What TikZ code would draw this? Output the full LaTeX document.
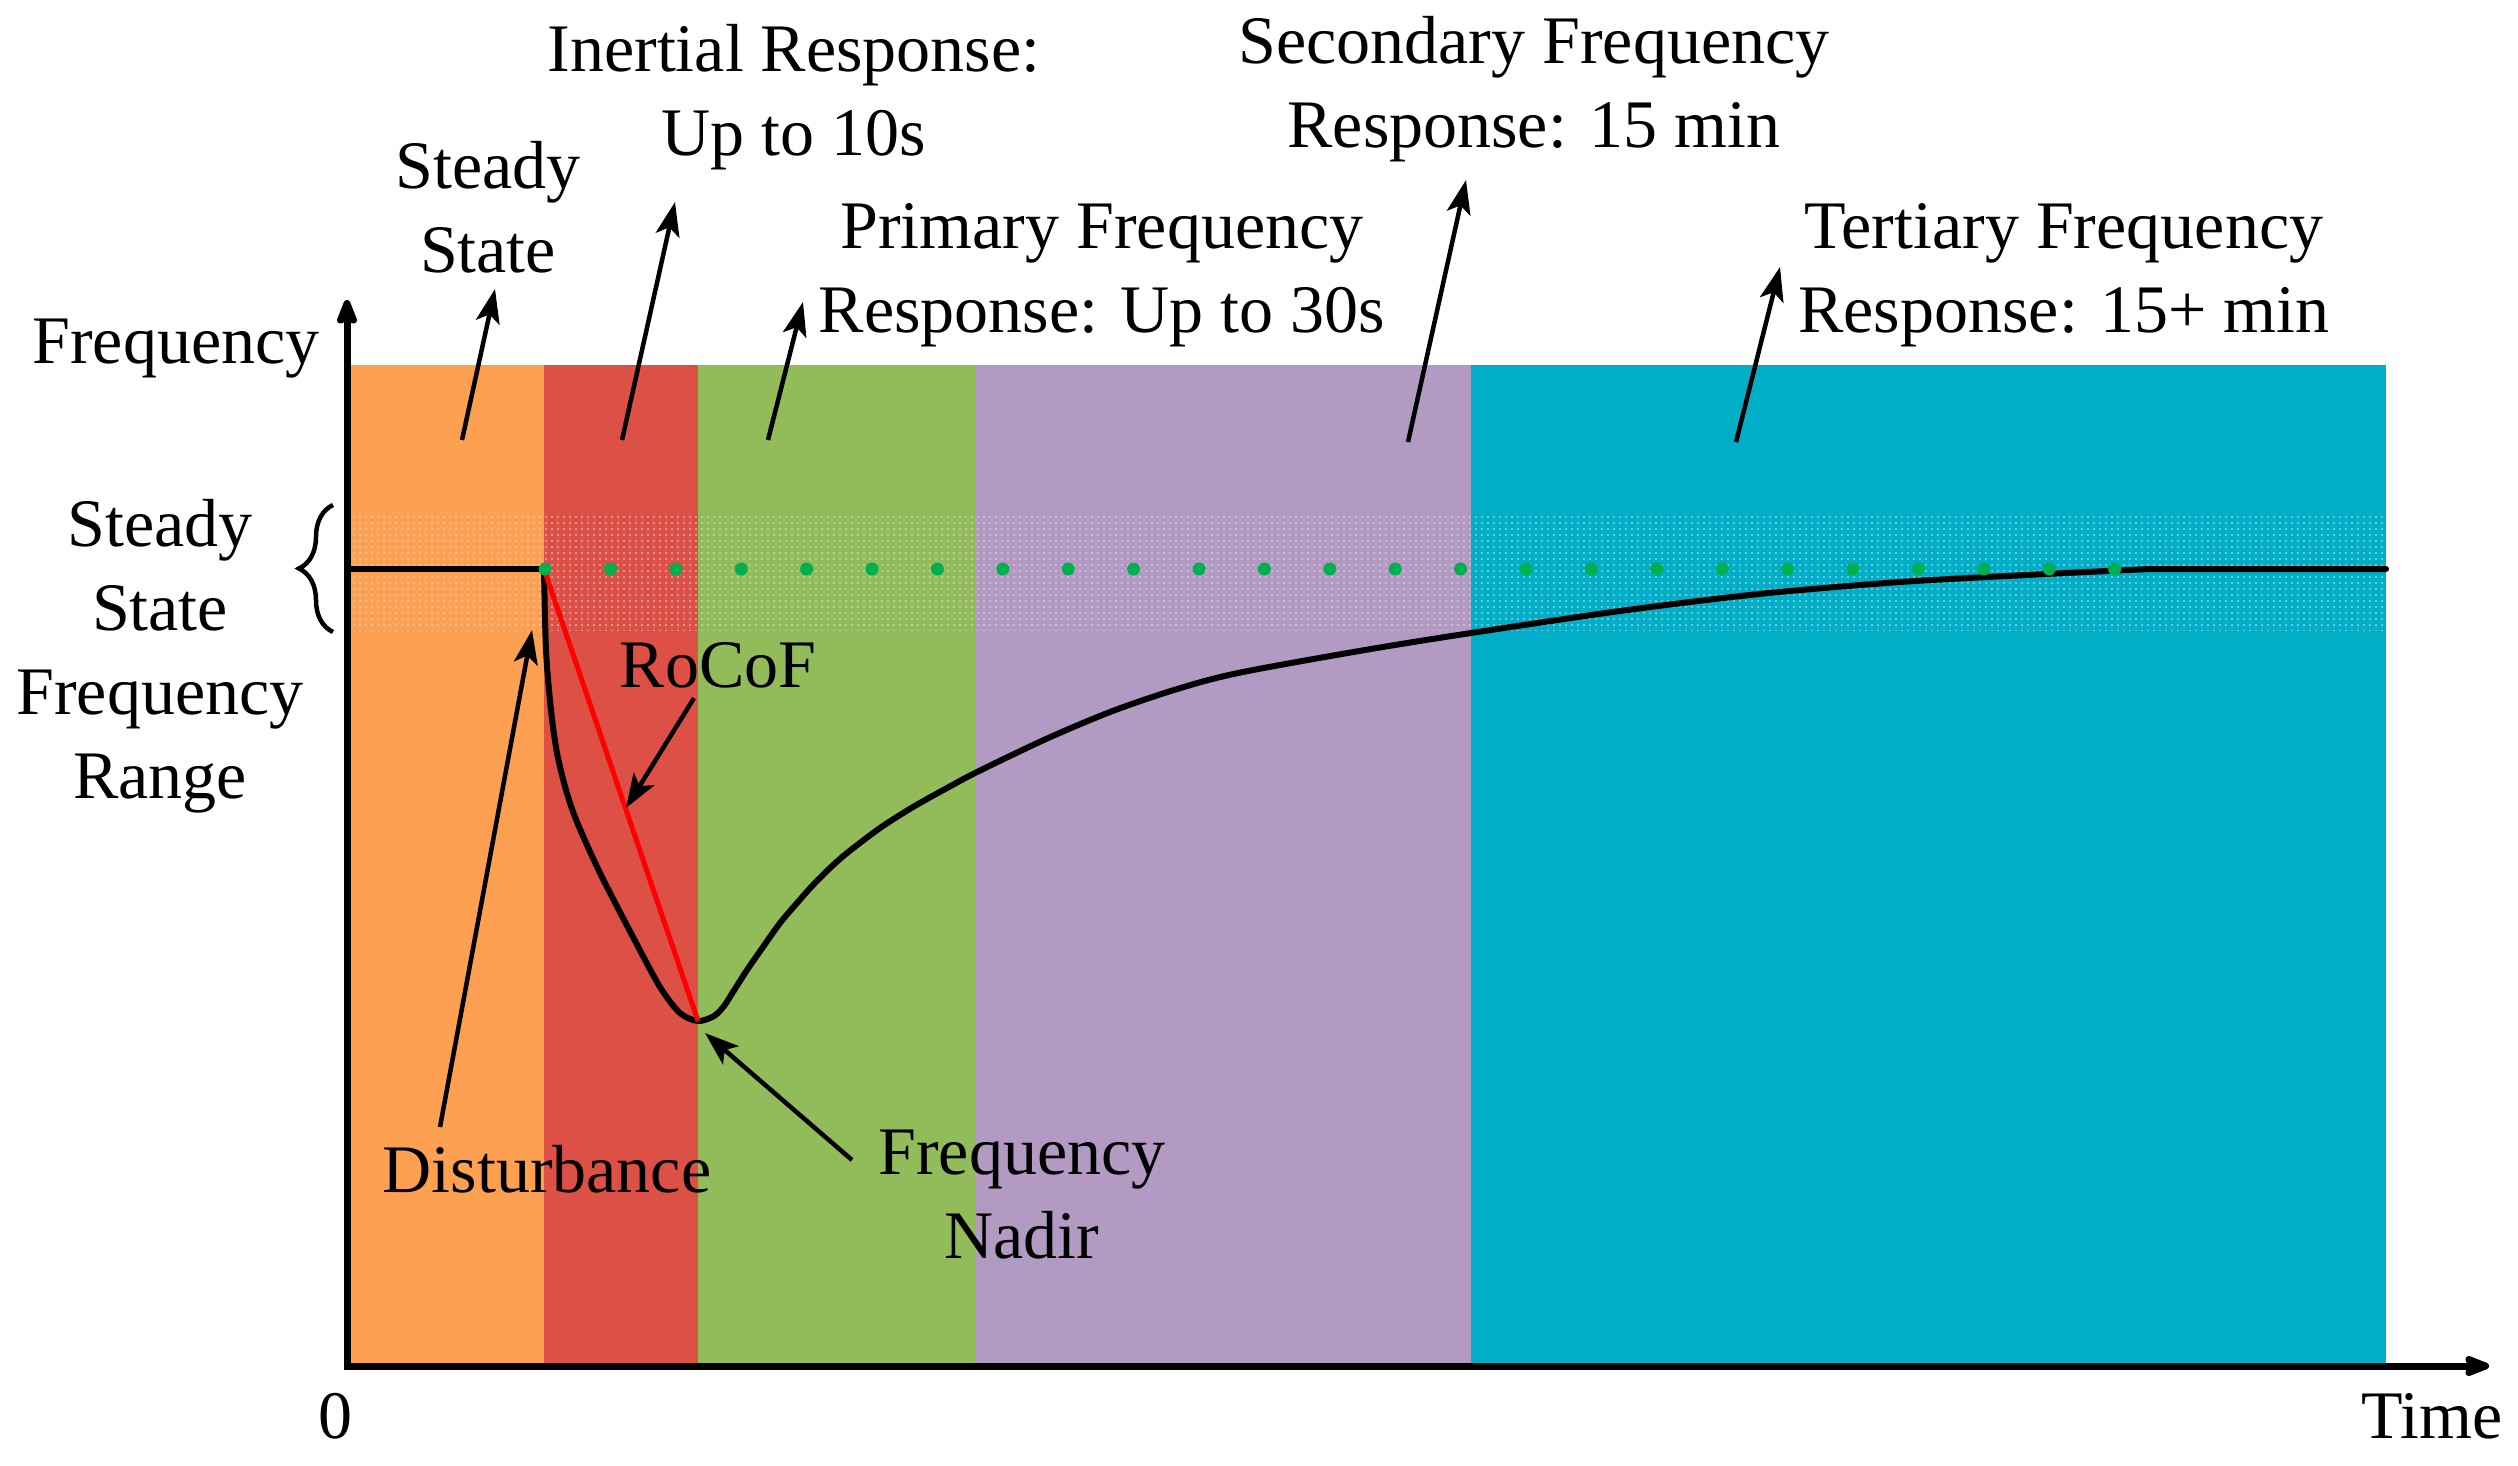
\documentclass[tikz,border=0pt]{standalone}
\usepackage{fontspec}
\setmainfont{Liberation Serif}
\usetikzlibrary{arrows.meta,decorations.pathreplacing,patterns.meta}
\definecolor{corange}{RGB}{253,160,82}
\definecolor{cred}{RGB}{220,80,70}
\definecolor{cgreen}{RGB}{146,187,90}
\definecolor{cpurple}{RGB}{179,154,195}
\definecolor{ccyan}{RGB}{0,174,199}
\definecolor{cdot}{RGB}{0,176,80}
\definecolor{cband}{RGB}{225,225,225}
\begin{document}
\begin{tikzpicture}[x=1pt,y=-1pt,
  lbl/.style={font=\fontsize{68}{84}\selectfont, align=center, inner sep=0pt, anchor=base},
  annot/.style={line width=4.5pt, -{Stealth[length=34pt,width=24pt,inset=8pt]}},
  axisline/.style={line width=7pt, -{Stealth[length=32pt,width=24pt,inset=5pt,round]}},
  curve/.style={line width=6pt, line join=round, line cap=round}]
\useasboundingbox (0,0) rectangle (2518,1465);
% regions
\fill[corange] (350,365) rectangle (544,1366);
\fill[cred] (544,365) rectangle (698,1366);
\fill[cgreen] (698,365) rectangle (976,1366);
\fill[cpurple] (976,365) rectangle (1471,1366);
\fill[ccyan] (1471,365) rectangle (2386,1366);
% steady state band
\fill[pattern={Dots[distance=6pt,radius=0.9pt]}, pattern color=cband] (350,512) rectangle (2386,630);
% coordinates
\coordinate (dist) at (544,569);
\coordinate (nadir) at (698,1021);
\coordinate (flatL) at (350,569);
\coordinate (flatR) at (2386,569);
% frequency curve
\draw[curve] (flatL) -- (dist);
\draw[curve] plot[smooth, tension=0.5] coordinates {
 (544,569) (546,650) (551,710) (557,753) (566,790) (577,822) (600,873) (633,937)
 (660,987) (680,1013) (698,1021) (714,1016) (724,1006) (733,992) (747,970) (763,947)
 (780,923) (797,903) (813,885) (830,868) (847,853) (880,828) (913,807) (947,788)
 (977,772) (1046,739) (1110,712) (1174,690) (1238,673) (1365,650) (1471,633)
 (1620,611) (1759,594) (1900,582) (2046,574) (2150,569)}
 -- (flatR);
% RoCoF line
\draw[line width=5pt, red] (dist) -- (nadir);
% green dots
\foreach \i in {0,...,24} \fill[cdot] ({545+65.4*\i},569) circle (6.5pt);
% axes
\coordinate (origin) at (347,1366);
\coordinate (ytip) at (347,300);
\coordinate (xtip) at (2489,1366);
\draw[axisline] (347,1369.5) -- (ytip);
\draw[axisline] (343.5,1366) -- (xtip);
% brace
\draw[line width=4.5pt, decorate, decoration={brace, amplitude=34pt}] (333,632) -- (333,505);
% labels (anchor base = baseline of the last line)
\node[lbl] (freqlab) at (176,363) {Frequency};
\node[lbl] (sslab) at (160,798) {Steady\\State\\Frequency\\Range};
\node[lbl] (sstop) at (488,272) {Steady\\State};
\node[lbl] (inert) at (794,155) {Inertial Response:\\Up to 10s};
\node[lbl] (prim) at (1102,332) {Primary Frequency\\Response: Up to 30s};
\node[lbl] (sec) at (1534,147) {Secondary Frequency\\Response: 15 min};
\node[lbl] (tert) at (2064,332) {Tertiary Frequency\\Response: 15+ min};
\node[lbl] (rocof) at (718,687) {RoCoF};
\node[lbl] (disturb) at (547,1192) {Disturbance};
\node[lbl] (nadirlab) at (1022,1258) {Frequency\\Nadir};
\node[lbl] (zero) at (335,1438) {0};
\node[lbl] (time) at (2432,1438) {Time};
% annotation arrows
\coordinate (a1s) at (462,440); \coordinate (a1e) at (495,289);
\coordinate (a2s) at (622,440); \coordinate (a2e) at (675,202);
\coordinate (a3s) at (768,440); \coordinate (a3e) at (803,302);
\coordinate (a4s) at (1408,442); \coordinate (a4e) at (1466,180);
\coordinate (a5s) at (1736,442); \coordinate (a5e) at (1780,267);
\coordinate (a6s) at (440,1127); \coordinate (a6e) at (532,630);
\coordinate (a7s) at (694,698); \coordinate (a7e) at (626,808);
\coordinate (a8s) at (852,1160); \coordinate (a8e) at (705,1033);
\draw[annot] (a1s) -- (a1e);
\draw[annot] (a2s) -- (a2e);
\draw[annot] (a3s) -- (a3e);
\draw[annot] (a4s) -- (a4e);
\draw[annot] (a5s) -- (a5e);
\draw[annot] (a6s) -- (a6e);
\draw[annot] (a7s) -- (a7e);
\draw[annot] (a8s) -- (a8e);
\end{tikzpicture}
\end{document}
